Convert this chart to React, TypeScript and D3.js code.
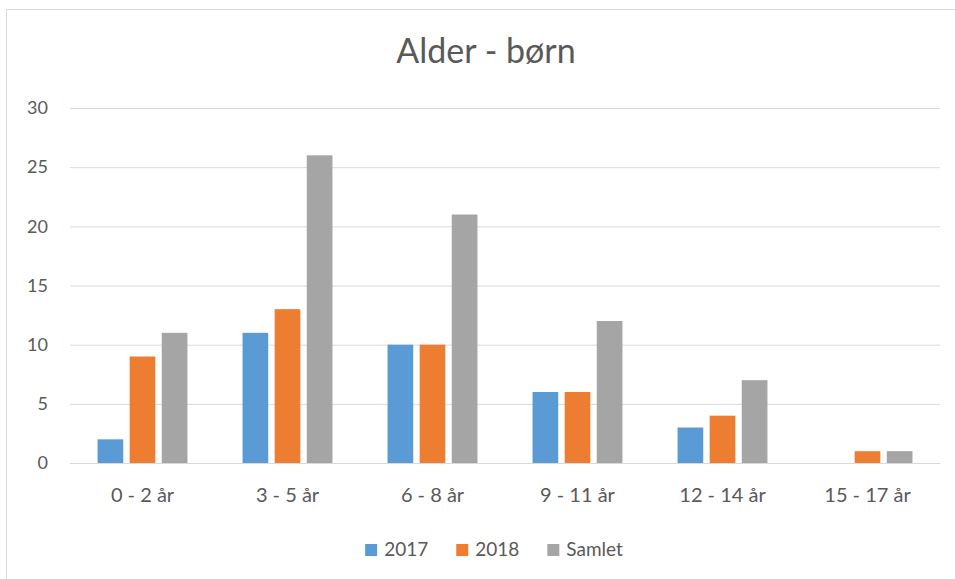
import { useEffect, useRef } from "react";
import * as d3 from "d3";

const categories = ["0 - 2 år", "3 - 5 år", "6 - 8 år", "9 - 11 år", "12 - 14 år", "15 - 17 år"];
const values2017 = [2, 11, 10, 6, 3, 0];
const values2018 = [9, 13, 10, 6, 4, 1];
const valuesSamlet = [11, 26, 21, 12, 7, 1];
const seriesNames = ["2017", "2018", "Samlet"];
const seriesColors = ["#5B9BD5", "#ED7D31", "#A5A5A5"];
const yTicks = [0, 5, 10, 15, 20, 25, 30];

const App = () => {
    const svgRef = useRef<SVGSVGElement>(null);

    useEffect(() => {
        document.body.style.margin = "0";
        const width = 955;
        const height = 579;
        const margin = { top: 108, right: 15, bottom: 116, left: 70 };
        const font = "Lato, 'Open Sans', sans-serif";
        const textColor = "#595959";

        const svg = d3.select(svgRef.current);
        svg.selectAll("*").remove();
        svg.attr("width", width).attr("height", height);

        // fondo y borde del gráfico
        svg.append("rect")
            .attr("x", 6.5)
            .attr("y", 9.5)
            .attr("width", width + 10)
            .attr("height", height + 10)
            .attr("fill", "#fff")
            .attr("stroke", "#D9D9D9");

        const series = [values2017, values2018, valuesSamlet];

        const x = d3.scaleBand<string>()
            .domain(categories)
            .range([margin.left, width - margin.right])
            .paddingInner(0.38)
            .paddingOuter(0.19);

        const xInner = d3.scaleBand<string>()
            .domain(seriesNames)
            .range([0, x.bandwidth()])
            .paddingInner(0.2);

        const y = d3.scaleLinear()
            .domain([0, 30])
            .range([height - margin.bottom, margin.top]);

        const color = d3.scaleOrdinal<string, string>().domain(seriesNames).range(seriesColors);

        // líneas de la cuadrícula
        const yAxis = d3.axisLeft(y)
            .tickValues(yTicks)
            .tickSize(-(width - margin.left - margin.right))
            .tickPadding(22);

        const gy = svg.append("g")
            .attr("transform", `translate(${margin.left},0)`)
            .call(yAxis);
        gy.select(".domain").remove();
        gy.selectAll(".tick line").attr("stroke", "#D9D9D9");
        gy.selectAll(".tick text")
            .attr("fill", textColor)
            .style("font-family", font)
            .style("font-size", "18px");

        // barras
        series.forEach((vals, si) => {
            svg.append("g")
                .selectAll("rect")
                .data(vals)
                .enter().append("rect")
                .attr("x", (d, i) => (x(categories[i]) ?? 0) + (xInner(seriesNames[si]) ?? 0))
                .attr("y", d => y(d))
                .attr("width", xInner.bandwidth())
                .attr("height", d => y(0) - y(d))
                .attr("fill", seriesColors[si]);
        });

        // etiquetas del eje x
        const xAxis = d3.axisBottom(x).tickSize(0).tickPadding(25);
        const gx = svg.append("g")
            .attr("transform", `translate(0,${height - margin.bottom})`)
            .call(xAxis);
        gx.select(".domain").attr("stroke", "#D9D9D9");
        gx.selectAll(".tick text")
            .attr("fill", textColor)
            .style("font-family", font)
            .style("font-size", "20px");

        // título
        svg.append("text")
            .attr("x", 486)
            .attr("y", 63)
            .attr("text-anchor", "middle")
            .attr("fill", textColor)
            .style("font-family", font)
            .style("font-size", "34px")
            .text("Alder - børn");

        // leyenda
        const legend = svg.append("g").attr("transform", "translate(0,556)");
        const item = legend.selectAll("g")
            .data(seriesNames)
            .enter().append("g");
        item.append("rect")
            .attr("y", -12)
            .attr("width", 12)
            .attr("height", 12)
            .attr("fill", d => color(d));
        item.append("text")
            .attr("x", 19)
            .attr("y", 0)
            .attr("fill", textColor)
            .style("font-family", font)
            .style("font-size", "19px")
            .text(d => d);

        let offset = 0;
        const widths: number[] = [];
        item.each(function () {
            const t = d3.select(this).select("text").node() as SVGTextElement;
            widths.push(19 + t.getComputedTextLength());
        });
        const gap = 28;
        const total = d3.sum(widths) + gap * (widths.length - 1);
        const start = 494 - total / 2;
        item.attr("transform", (d, i) => {
            const tx = start + offset;
            offset += widths[i] + gap;
            return `translate(${tx},0)`;
        });
    }, []);

    return <svg ref={svgRef}></svg>;
};

export default App;
